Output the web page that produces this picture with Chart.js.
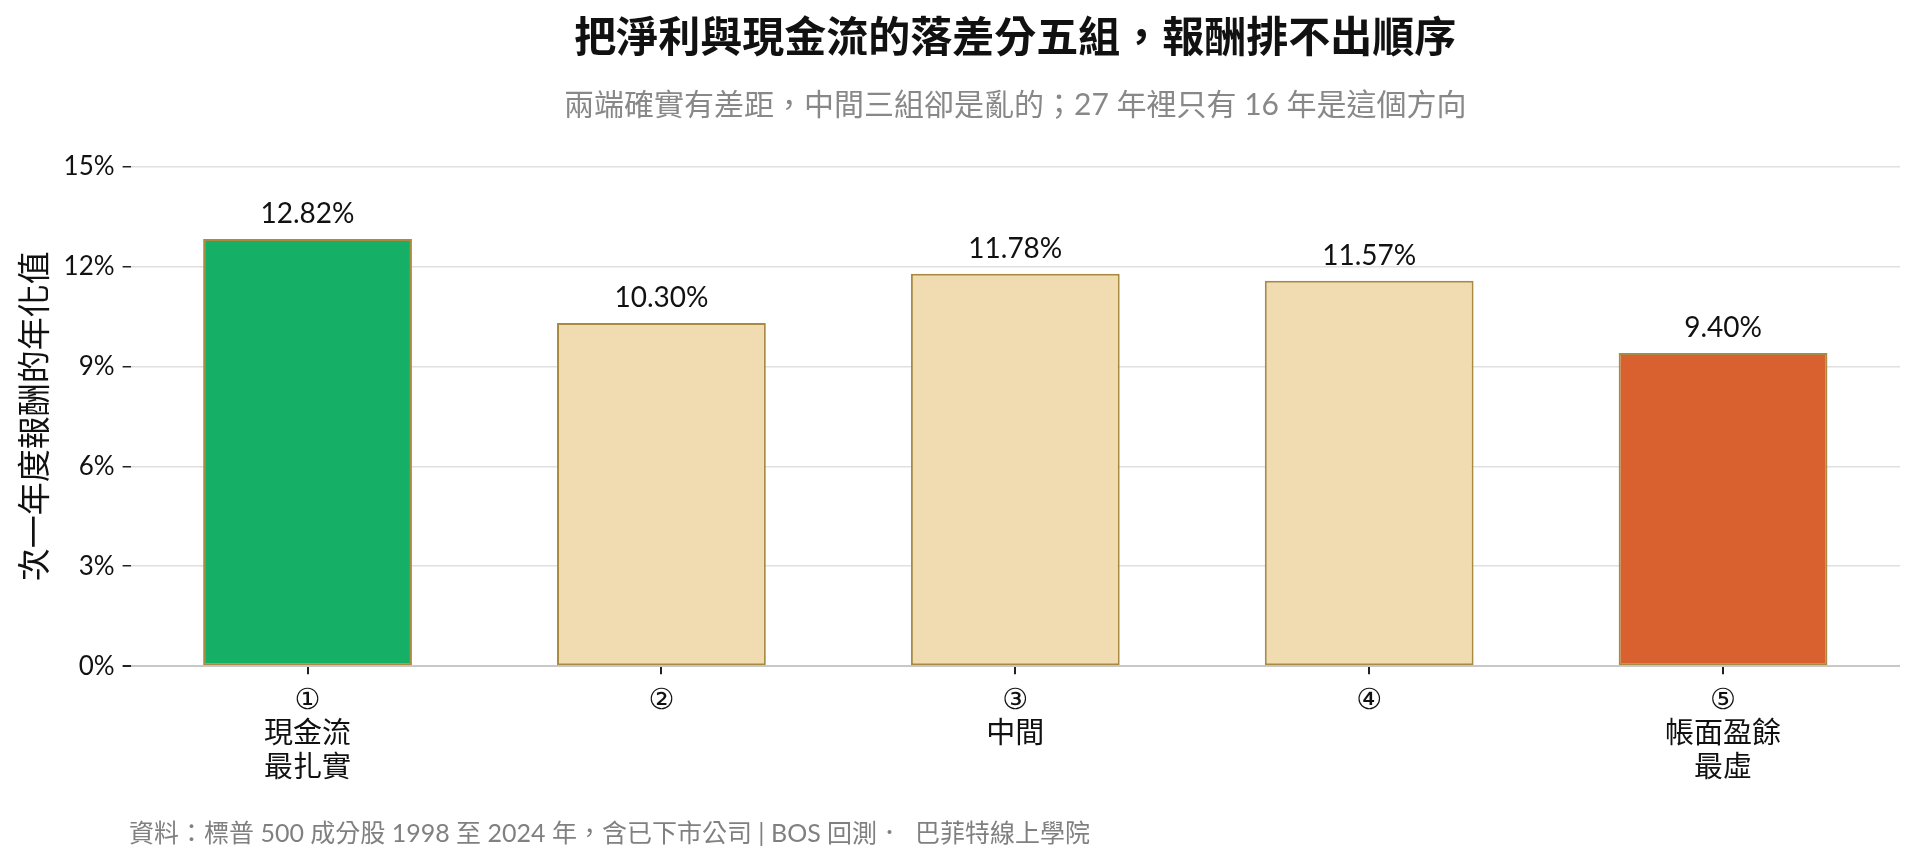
<!DOCTYPE html>
<html>
<head>
<meta charset="utf-8">
<script src="https://cdn.jsdelivr.net/npm/chart.js@4.4.1/dist/chart.umd.min.js"></script>
<style>
  body { margin: 0; background: #fff; }
  #wrap { position: relative; width: 1921px; height: 862px; }
  #footer {
    position: absolute; left: 129px; top: 813px;
    font: 25px Lato, "Noto Sans CJK TC", sans-serif; color: #808080;
    white-space: pre;
  }
</style>
</head>
<body>
<div id="wrap">
  <canvas id="chart"></canvas>
  <div id="footer">資料：標普 500 成分股 1998 至 2024 年，含已下市公司 | BOS 回測．  巴菲特線上學院</div>
</div>
<script>
// 分組與次一年度年化報酬（%）
const groups = [
  ["①", "現金流", "最扎實"],
  ["②"],
  ["③", "中間"],
  ["④"],
  ["⑤", "帳面盈餘", "最虛"]
];
const annualReturns = [12.82, 10.30, 11.78, 11.57, 9.40];
const yMin = 0;
const yMax = 15;
const yStep = 3;

const barColors = ["#15AF65", "#F0DCB0", "#F0DCB0", "#F0DCB0", "#D9612F"];

Chart.defaults.font.family = "Lato, 'Noto Sans CJK TC', sans-serif";
Chart.defaults.color = "#111";

// 柱頂數值
const valueLabels = {
  id: "valueLabels",
  afterDatasetsDraw(chart) {
    const ctx = chart.ctx;
    const meta = chart.getDatasetMeta(0);
    ctx.save();
    ctx.font = "28px Lato, 'Noto Sans CJK TC', sans-serif";
    ctx.fillStyle = "#111";
    ctx.textAlign = "center";
    ctx.textBaseline = "alphabetic";
    meta.data.forEach((bar, i) => {
      ctx.fillText(annualReturns[i].toFixed(2) + "%", bar.x, bar.y - 16);
    });
    ctx.restore();
  }
};

new Chart(document.getElementById("chart"), {
  type: "bar",
  data: {
    labels: groups,
    datasets: [{
      data: annualReturns,
      backgroundColor: barColors,
      borderColor: "#A88B40",
      borderWidth: 2,
      borderSkipped: false,
      barPercentage: 0.59,
      categoryPercentage: 1
    }]
  },
  options: {
    responsive: true,
    maintainAspectRatio: false,
    animation: false,
    layout: { padding: { left: 12, right: 21, top: 0, bottom: 66 } },
    plugins: {
      legend: { display: false },
      tooltip: { enabled: false },
      title: {
        display: true,
        fullSize: false,
        text: "把淨利與現金流的落差分五組，報酬排不出順序",
        font: { size: 42, weight: "bold" },
        color: "#111",
        padding: { top: 13, bottom: 24 }
      },
      subtitle: {
        display: true,
        fullSize: false,
        text: "兩端確實有差距，中間三組卻是亂的；27 年裡只有 16 年是這個方向",
        font: { size: 30 },
        color: "#888",
        padding: { top: 0, bottom: 43 }
      }
    },
    scales: {
      x: {
        grid: {
          display: true,
          drawOnChartArea: false,
          offset: false,
          tickLength: 8,
          tickColor: "#222",
          lineWidth: 2
        },
        border: { display: false },
        ticks: {
          font: { size: 29, lineHeight: 1.17, family: "'DejaVu Sans', 'Noto Sans CJK TC', sans-serif" },
          color: "#111",
          padding: 10,
          maxRotation: 0,
          autoSkip: false
        }
      },
      y: {
        min: yMin,
        max: yMax,
        grid: {
          color: ctx => ctx.tick && ctx.tick.value === 0 ? "#c8c8c8" : "#e0e0e0",
          lineWidth: ctx => ctx.tick && ctx.tick.value === 0 ? 2 : 1.5,
          tickLength: 8,
          tickColor: "#222"
        },
        border: { display: false },
        ticks: {
          stepSize: yStep,
          font: { size: 26 },
          color: "#111",
          padding: 8,
          callback: v => v + "%"
        },
        title: {
          display: true,
          text: "次一年度報酬的年化值",
          font: { size: 33 },
          color: "#111",
          padding: { top: 4, bottom: 0 }
        }
      }
    }
  },
  plugins: [valueLabels]
});
</script>
</body>
</html>
